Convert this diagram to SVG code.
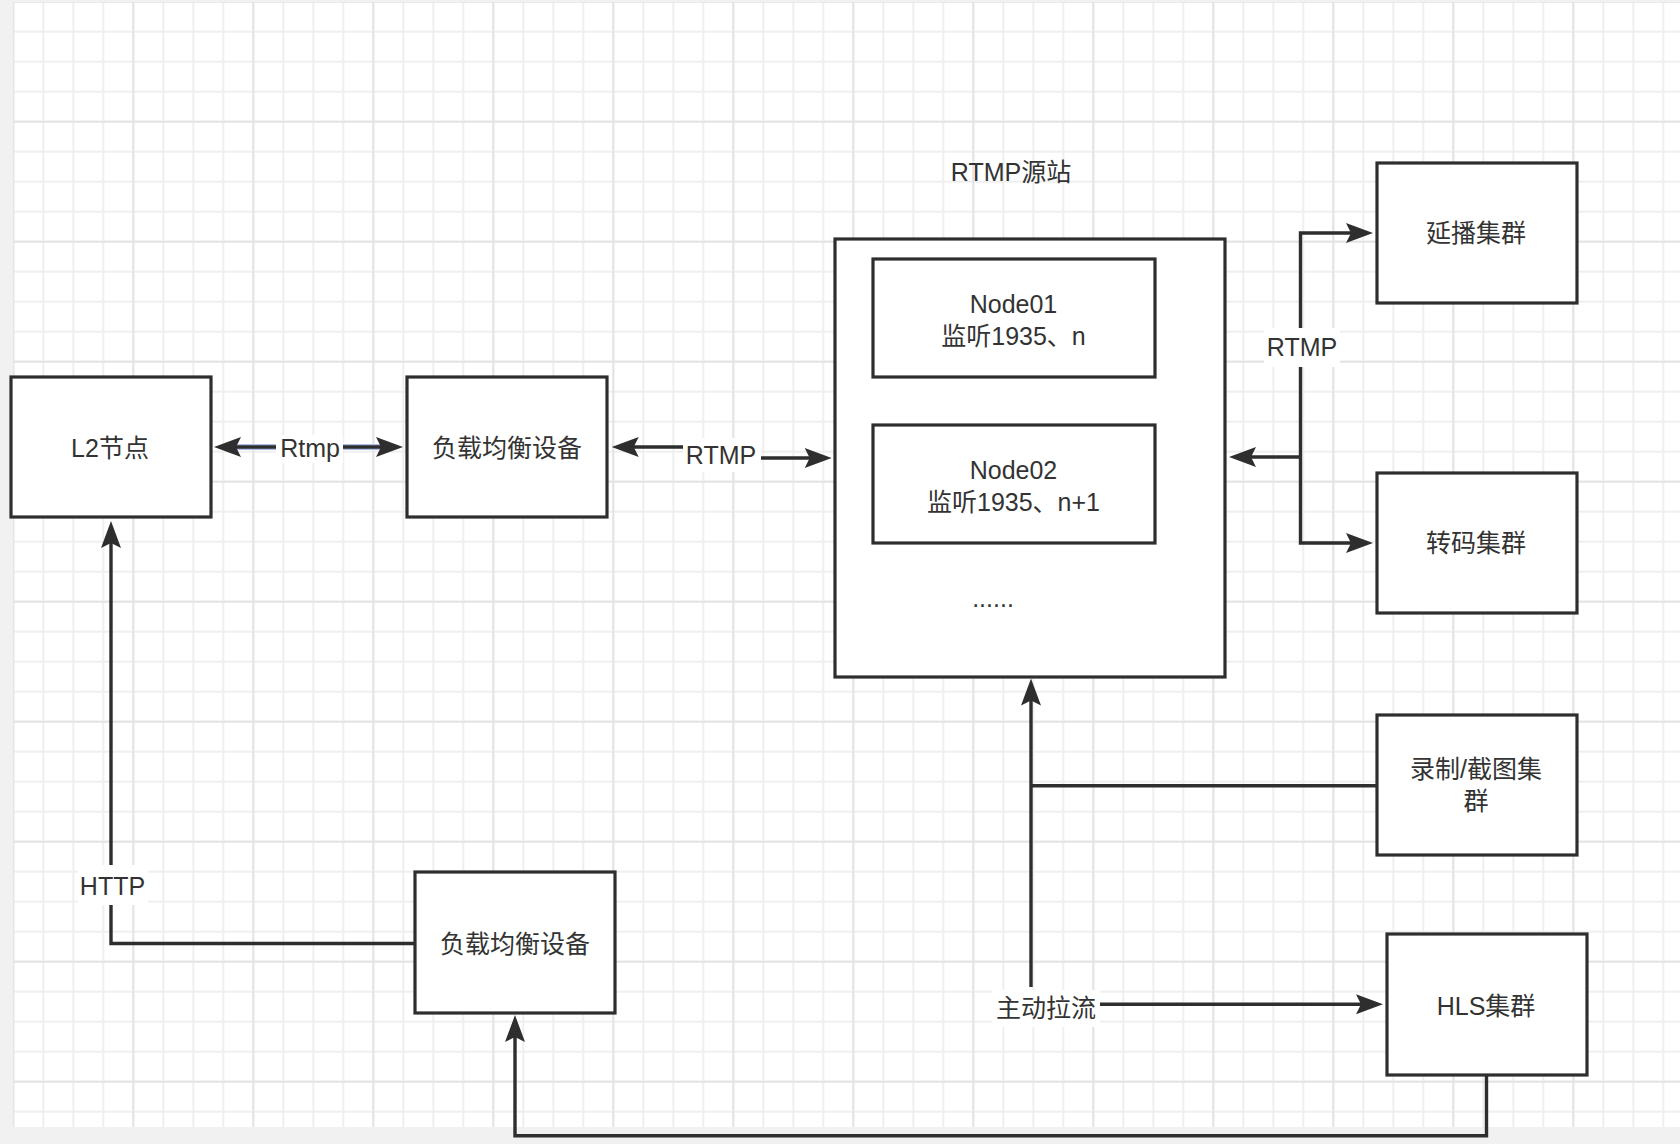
<svg xmlns="http://www.w3.org/2000/svg" width="1680" height="1144" viewBox="0 0 1680 1144">
  <style>
    .box { fill: #ffffff; stroke: #2e2e2e; stroke-width: 3.2; }
    .t { font-family: "Liberation Sans", "Noto Sans CJK SC", sans-serif; font-size: 25px; fill: #333333; text-anchor: middle; }
    .ln { fill: none; stroke: #2e2e2e; stroke-width: 3.4; }
    .arr { marker-end: url(#ah); }
    .arr2 { marker-start: url(#ah); marker-end: url(#ah); }
    .lbg { fill: #ffffff; }
    .blue { fill: none; stroke: #aebfe6; stroke-width: 6; }
  </style>
  <defs>
    <pattern id="gMinor" x="13.3" y="1.7" width="30" height="30" patternUnits="userSpaceOnUse">
      <path d="M0 0V30M30 0V30M0 0H30M0 30H30" fill="none" stroke="#efefef" stroke-width="2"/>
    </pattern>
    <pattern id="gMajor" x="13.3" y="1.7" width="120" height="120" patternUnits="userSpaceOnUse">
      <path d="M0 0V120M120 0V120M0 0H120M0 120H120" fill="none" stroke="#e4e4e4" stroke-width="2"/>
    </pattern>
    <marker id="ah" viewBox="-10 -11 32 22" refX="0" refY="0" markerWidth="32" markerHeight="22" markerUnits="userSpaceOnUse" orient="auto-start-reverse" overflow="visible">
      <path d="M19,0 L-8,-10 L-3,0 L-8,10 Z" fill="#2e2e2e"/>
    </marker>
  </defs>

  <g id="background">
    <rect x="0" y="0" width="1680" height="1144" fill="#f1f1f1"/>
    <rect x="13" y="2" width="1667" height="1125" fill="#ffffff"/>
    <rect x="13" y="2" width="1667" height="1125" fill="url(#gMinor)"/>
    <rect x="13" y="2" width="1667" height="1125" fill="url(#gMajor)"/>
  </g>

  <g id="connectors">
    <path class="blue" d="M234,447 H276 M343,447 H383"/>
    <path class="ln arr2" d="M233,447 H384"/>
    <path class="ln arr2" d="M630.7,447 H722 V458 H812.7"/>
    <path class="ln arr2" d="M1354,233 H1300.5 V543 H1354"/>
    <path class="ln arr" d="M1300.5,457 H1248"/>
    <path class="ln arr" d="M1031,987 V697.5"/>
    <path class="ln" d="M1031,785.7 H1377"/>
    <path class="ln arr" d="M1100,1004.3 H1364"/>
    <path class="ln arr" d="M1486.5,1075 V1135.7 H515 V1034"/>
    <path class="ln arr" d="M415,943.5 H111 V540"/>
    <rect class="lbg" x="276" y="435" width="67" height="28"/>
    <text class="t" x="310" y="457">Rtmp</text>
    <rect class="lbg" x="683" y="438" width="78" height="34"/>
    <text class="t" x="721" y="464">RTMP</text>
    <rect class="lbg" x="1264" y="328" width="76" height="39"/>
    <text class="t" x="1302" y="356">RTMP</text>
    <rect class="lbg" x="78" y="865" width="70" height="40"/>
    <text class="t" x="112.5" y="895">HTTP</text>
    <rect class="lbg" x="992" y="990" width="108" height="37"/>
    <text class="t" x="1046" y="1017">主动拉流</text>
  </g>

  <g id="node-l2">
    <rect class="box" x="11" y="377" width="200" height="140"/>
    <text class="t" x="110" y="457">L2节点</text>
  </g>
  <g id="node-lb1">
    <rect class="box" x="407" y="377" width="200" height="140"/>
    <text class="t" x="507" y="457">负载均衡设备</text>
  </g>
  <g id="node-rtmp">
    <text class="t" x="1011" y="181">RTMP源站</text>
    <rect class="box" x="835" y="239" width="390" height="438"/>
    <text class="t" x="993" y="607">......</text>
  </g>
  <g id="node-node01">
    <rect class="box" x="873" y="259" width="282" height="118"/>
    <text class="t" x="1013.5" y="313">Node01</text>
    <text class="t" x="1013.5" y="345">监听1935、n</text>
  </g>
  <g id="node-node02">
    <rect class="box" x="873" y="425" width="282" height="118"/>
    <text class="t" x="1013.5" y="479">Node02</text>
    <text class="t" x="1013.5" y="511">监听1935、n+1</text>
  </g>
  <g id="node-delay">
    <rect class="box" x="1377" y="163" width="200" height="140"/>
    <text class="t" x="1476" y="242">延播集群</text>
  </g>
  <g id="node-transcode">
    <rect class="box" x="1377" y="473" width="200" height="140"/>
    <text class="t" x="1476" y="552">转码集群</text>
  </g>
  <g id="node-record">
    <rect class="box" x="1377" y="715" width="200" height="140"/>
    <text class="t" x="1476" y="778">录制/截图集</text>
    <text class="t" x="1476" y="810">群</text>
  </g>
  <g id="node-hls">
    <rect class="box" x="1387" y="934" width="200" height="141"/>
    <text class="t" x="1486" y="1015">HLS集群</text>
  </g>
  <g id="node-lb2">
    <rect class="box" x="415" y="872" width="200" height="141"/>
    <text class="t" x="515" y="953">负载均衡设备</text>
  </g>
</svg>
